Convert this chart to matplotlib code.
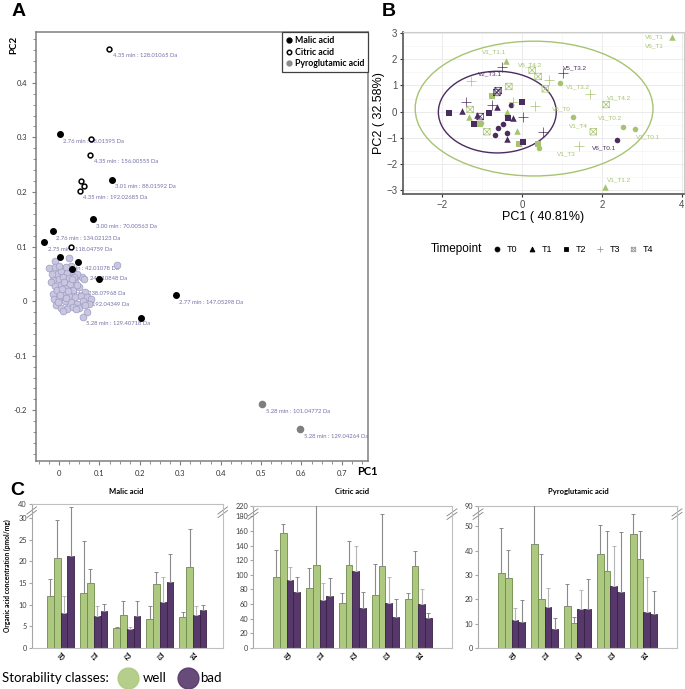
import numpy as np
import matplotlib.pyplot as plt
from matplotlib.patches import Ellipse
from matplotlib.lines import Line2D
from matplotlib.path import Path
from matplotlib.ticker import MultipleLocator

plt.rcParams['font.family'] = ['Lato', 'DejaVu Sans']

# ---------------- panel A : loadings ----------------
malic_x = [0.002, 0.131, 0.084, -0.015, -0.037, 0.002, 0.047, 0.032, 0.099, 0.289, 0.203]
malic_y = [0.306, 0.222, 0.150, 0.128, 0.108, 0.081, 0.071, 0.059, 0.040, 0.011, -0.031]
citric_x = [0.124, 0.079, 0.077, 0.054, 0.062, 0.051, 0.030]
citric_y = [0.462, 0.297, 0.268, 0.220, 0.211, 0.202, 0.100]
pyro_x = [0.503, 0.597]
pyro_y = [-0.189, -0.235]
other_x = [-0.025, -0.010, 0.025, 0.143, -0.010, 0.015, 0.057, 0.064, 0.070, 0.059,
           -0.015, -0.015, -0.020, -0.005, 0.005, 0.020, 0.035, 0.045, 0.000, 0.010,
           0.025, 0.040, -0.010, 0.005, 0.020, 0.035, 0.050, -0.005, 0.010, 0.025,
           0.040, 0.055, 0.070, 0.080, -0.012, 0.000, 0.015, 0.030, 0.045, 0.060,
           0.075, -0.008, 0.005, 0.020, 0.035, 0.050, 0.065, -0.002, 0.012, 0.028,
           0.000, 0.030, -0.018, 0.045, 0.062, 0.010, 0.042, 0.018, 0.008, 0.022,
           0.038, 0.002, 0.016, 0.032]
other_y = [0.060, 0.073, 0.079, 0.067, 0.063, 0.060, 0.044, 0.017, -0.020, -0.029,
           0.038, 0.013, 0.035, 0.050, 0.055, 0.052, 0.055, 0.050, 0.040, 0.045,
           0.042, 0.035, 0.028, 0.030, 0.025, 0.020, 0.025, 0.020, 0.015, 0.010,
           0.008, 0.010, 0.008, 0.003, 0.003, 0.005, 0.000, -0.002, -0.005, 0.000,
           -0.005, -0.008, -0.012, -0.015, -0.010, -0.012, -0.008, -0.002, 0.035, 0.032,
           0.065, 0.065, 0.050, 0.030, 0.040, -0.018, -0.015, 0.062, 0.022, 0.018,
           0.045, 0.012, 0.006, 0.040]
ann_text = ['4.35 min : 128.01065 Da', '2.76 min : 88.01595 Da', '4.35 min : 156.00555 Da',
            '3.01 min : 88.01592 Da', '4.35 min : 192.02685 Da', '3.00 min : 70.00563 Da',
            '2.76 min : 134.02123 Da', '2.75 min : 118.04759 Da', '2.75 min : 42.01078 Da',
            '2.71 min : 248.10848 Da', '2.68 min : 238.07968 Da', '3.01 min : 192.04349 Da',
            '5.28 min : 129.40718 Da', '2.77 min : 147.05298 Da', '5.28 min : 101.04772 Da',
            '5.28 min : 129.04264 Da']
ann_x = [0.124, 0.002, 0.077, 0.131, 0.051, 0.084, -0.015, -0.037, -0.010, 0.002,
         -0.005, 0.007, 0.059, 0.289, 0.503, 0.597]
ann_y = [0.462, 0.306, 0.268, 0.222, 0.202, 0.150, 0.128, 0.108, 0.073, 0.055,
         0.027, 0.007, -0.029, 0.011, -0.189, -0.235]

# ---------------- panel B : scores ----------------
pca_x = [1.28, 2.53, 2.83, 0.95, 0.43, -1.03,
         2.38, -0.28, -0.60, -0.48, -0.68, -0.38,
         3.75, -0.40, 2.08, -0.38, -1.33, -0.13,
         -1.50, -1.13, -0.63, -0.23, -0.38,
         -0.75, -1.05, -0.08, 0.40,
         -1.83, -1.20, -0.83, -0.35, 0.00, 0.03,
         0.67, 1.70, 0.32, 1.43, -1.28, -0.23,
         -0.50, 1.03, -1.40, -0.75, 0.03, 0.53,
         0.25, 0.40, 0.58, 2.10, 1.78, -0.88, -1.30, -0.33,
         -1.05, -0.63, -0.60]
pca_y = [-0.20, -0.57, -0.67, 1.08, -1.38, -0.42,
         -1.08, 0.27, -0.62, -0.46, -0.88, -0.81,
         2.85, 1.92, -2.88, 0.00, -0.19, -0.73,
         0.04, -0.12, 0.18, -0.23, -1.04,
         0.58, -0.46, -1.23, -1.23,
         -0.04, -0.46, -0.04, -0.23, 0.38, -1.15,
         1.19, 0.68, 0.20, -1.30, 1.16, 0.38,
         1.70, 1.46, 0.38, 0.27, -0.19, -0.77,
         1.58, 1.34, 0.87, 0.27, -0.77, -0.77, 0.08, 0.96,
         -0.19, 0.73, 0.80]
pca_tp = (['T0'] * 12 + ['T1'] * 11 + ['T2'] * 10 + ['T3'] * 12 + ['T4'] * 11)
pca_cls = (['well'] * 6 + ['bad'] * 6 + ['well'] * 6 + ['bad'] * 5 + ['well'] * 4 + ['bad'] * 6
           + ['well'] * 6 + ['bad'] * 6 + ['well'] * 8 + ['bad'] * 3)
lab_text = ['V6_T1', 'V6_T1', 'V1_T1.1', 'V6_T4.2', 'V2_T3.1', 'V5_T3.2', 'V1_T3.2', 'V1_T4.2',
            'V6_T0', 'V1_T4', 'V1_T0.2', 'V1_T0.1', 'V6_T0.1', 'V1_T3', 'V1_T1.2']
lab_x = [3.30, 3.30, -0.70, 0.20, -0.80, 1.33, 1.40, 2.43, 0.98, 1.40, 2.20, 3.15, 2.05, 1.10, 2.43]
lab_y = [2.85, 2.50, 2.30, 1.80, 1.46, 1.69, 0.96, 0.54, 0.12, -0.54, -0.23, -0.96, -1.38, -1.62, -2.62]
lab_cls = ['well', 'well', 'well', 'well', 'bad', 'bad', 'well', 'well', 'well', 'well', 'well',
           'well', 'bad', 'well', 'well']
ell_cls = ['well', 'bad']
ell_cx = [0.30, -0.62]
ell_cy = [0.115, -0.02]
ell_w = [5.95, 2.95]
ell_h = [5.15, 3.12]

# ---------------- panel C : bars ----------------
timepoints = ['T0', 'T1', 'T2', 'T3', 'T4']
malic_vals = [[12.1, 12.7, 4.7, 6.7, 7.2], [20.8, 15.0, 7.6, 14.8, 18.7],
              [8.0, 7.4, 4.4, 10.6, 7.6], [21.3, 8.5, 7.3, 15.2, 8.7]]
malic_err = [[3.7, 12.0, 0.2, 3.0, 1.1], [8.8, 3.3, 3.2, 2.7, 8.8],
             [4.0, 2.3, 0.4, 5.8, 2.1], [11.2, 1.6, 3.6, 6.5, 1.2]]
citric_vals = [[96.7, 82, 61.5, 72, 67], [157, 113, 113, 112, 112],
               [93, 66, 105, 61, 60], [77, 71, 55, 42, 41]]
citric_err = [[37, 27, 13, 43, 8], [12, 90, 33, 71, 20],
              [18, 23, 35, 36, 20], [20, 24, 21, 25, 7]]
pyro_vals = [[31.0, 42.6, 17.1, 38.8, 46.7], [28.8, 20.0, 10.3, 31.6, 36.7],
             [11.4, 16.8, 15.9, 25.3, 14.8], [10.7, 7.7, 16.2, 23.0, 13.8]]
pyro_err = [[18.5, 20, 9.3, 11.6, 8.5], [11.3, 18.5, 2.4, 16.5, 11.4],
            [5.2, 7.9, 7.8, 16.5, 14.4], [8.9, 4.6, 12.3, 24.7, 9.6]]

green = '#adc97f'
purple = '#56386a'
green_b = '#a6c470'
purple_b = '#4b2c5e'

fig = plt.figure(figsize=(6.85, 6.89), dpi=100)

# ======== A ========
axA = fig.add_axes([0.0526, 0.3309, 0.4847, 0.6226])
for i in range(len(ann_text)):
    axA.annotate(ann_text[i], (ann_x[i], ann_y[i]), xytext=(2.5, -5), textcoords='offset points',
                 fontsize=4.2, color='#7371a8', va='center', ha='left', zorder=2)
axA.scatter(other_x, other_y, s=24, c='#c9c7e0', edgecolors='#9d9bc2', linewidths=0.5, zorder=3)
axA.scatter(malic_x, malic_y, s=16, c='black', zorder=4)
axA.scatter(citric_x, citric_y, s=12, c='white', edgecolors='black', linewidths=1.1, zorder=4)
axA.scatter(pyro_x, pyro_y, s=20, c='#7f7f7f', zorder=4)
axA.set_xlim(-0.057, 0.765)
axA.set_ylim(-0.293, 0.493)
axA.set_xticks(np.arange(0, 0.71, 0.1))
axA.set_xticklabels(['0', '0.1', '0.2', '0.3', '0.4', '0.5', '0.6', '0.7'])
axA.set_yticks(np.arange(-0.2, 0.41, 0.1))
axA.set_yticklabels(['-0.2', '-0.1', '0', '0.1', '0.2', '0.3', '0.4'])
axA.xaxis.set_minor_locator(MultipleLocator(0.025))
axA.yaxis.set_minor_locator(MultipleLocator(0.02))
axA.tick_params(which='major', length=3, color='#7f7f7f', labelsize=5.5, labelcolor='#333333')
axA.tick_params(which='minor', length=2, color='#7f7f7f')
for s in axA.spines.values():
    s.set_color('#7f7f7f')
    s.set_linewidth(1.1)
hA = [Line2D([], [], marker='o', ls='none', mfc='black', mec='black', ms=3.5),
      Line2D([], [], marker='o', ls='none', mfc='white', mec='black', mew=1.1, ms=3.2),
      Line2D([], [], marker='o', ls='none', mfc='#8c8c8c', mec='#8c8c8c', ms=3.5)]
legA = axA.legend(hA, ['Malic acid', 'Citric acid', 'Pyroglutamic acid'], loc='upper right',
                  borderaxespad=0, fancybox=False, edgecolor='#404040', framealpha=1,
                  prop=dict(weight='bold', size=6.3), handletextpad=0.2, handlelength=0.8,
                  labelspacing=0.3, borderpad=0.45)
legA.get_frame().set_linewidth(0.9)
fig.text(0.0204, 0.9347, 'PC2', rotation=90, fontsize=7, fontweight='bold', ha='center', va='center')
fig.text(0.537, 0.3164, 'PC1', fontsize=8, fontweight='bold', ha='center', va='center')

# ======== B ========
axB = fig.add_axes([0.5883, 0.7184, 0.4102, 0.2351])
box_x = Path([(-1, -1), (1, -1), (1, 1), (-1, 1), (-1, -1), (-1, -1), (1, 1), (-1, 1), (1, -1)],
             [Path.MOVETO, Path.LINETO, Path.LINETO, Path.LINETO, Path.CLOSEPOLY,
              Path.MOVETO, Path.LINETO, Path.MOVETO, Path.LINETO])
mk = {'T0': 'o', 'T1': '^', 'T2': 's', 'T3': '+', 'T4': box_x}
sz = {'T0': 16, 'T1': 22, 'T2': 16, 'T3': 45, 'T4': 22}
ccol = {'well': green_b, 'bad': purple_b}
for i in range(len(ell_cx)):
    axB.add_patch(Ellipse((ell_cx[i], ell_cy[i]), ell_w[i], ell_h[i], fill=False,
                          edgecolor=ccol[ell_cls[i]], lw=1.0, zorder=2))
for i in range(len(pca_x)):
    tp = pca_tp[i]
    col = ccol[pca_cls[i]]
    if tp in ('T3', 'T4'):
        axB.scatter(pca_x[i], pca_y[i], marker=mk[tp], s=sz[tp], facecolors='none' if tp == 'T4' else col,
                    edgecolors=col, linewidths=0.5, zorder=3)
    else:
        axB.scatter(pca_x[i], pca_y[i], marker=mk[tp], s=sz[tp], c=col, linewidths=0, zorder=3)
for i in range(len(lab_text)):
    axB.text(lab_x[i], lab_y[i], lab_text[i], fontsize=4.6, color=ccol[lab_cls[i]],
             ha='center', va='center', family=['Liberation Sans', 'DejaVu Sans'], zorder=3)
axB.set_xlim(-2.98, 4.05)
axB.set_ylim(-3.15, 3.04)
axB.set_xticks([-2, 0, 2, 4])
axB.set_yticks([-3, -2, -1, 0, 1, 2, 3])
axB.set_xticks([-1, 1, 3], minor=True)
axB.set_yticks(np.arange(-2.5, 3, 1.0), minor=True)
axB.grid(which='major', color='#ebebeb', lw=0.7, zorder=0)
axB.grid(which='minor', color='#f2f2f2', lw=0.4, zorder=0)
axB.set_axisbelow(True)
axB.tick_params(which='major', length=2.5, color='#333333', labelsize=7, labelcolor='#4d4d4d', pad=1.5)
axB.tick_params(which='minor', length=0)
for lbl in axB.get_xticklabels() + axB.get_yticklabels():
    lbl.set_family(['Liberation Sans', 'DejaVu Sans'])
axB.spines['left'].set_color('#555555')
axB.spines['bottom'].set_color('#555555')
axB.spines['left'].set_linewidth(1.2)
axB.spines['bottom'].set_linewidth(1.2)
axB.spines['top'].set_color('#cccccc')
axB.spines['right'].set_color('#cccccc')
axB.set_xlabel('PC1 ( 40.81%)', fontsize=9, family=['Liberation Sans', 'DejaVu Sans'], labelpad=1)
axB.set_ylabel('PC2 ( 32.58%)', fontsize=9, family=['Liberation Sans', 'DejaVu Sans'], labelpad=1)

fig.text(0.629, 0.6386, 'Timepoint', fontsize=8.5, va='center', family=['Liberation Sans', 'DejaVu Sans'])
leg_x = [497, 532, 566, 600, 633]
for i, tp in enumerate(timepoints):
    xm = leg_x[i] / 685
    m = mk[tp]
    fig.add_artist(Line2D([xm], [0.6386], transform=fig.transFigure, marker=m, ls='none',
                          ms=4.5 if tp == 'T3' else (3.2 if tp == 'T4' else 3.5),
                          mfc='none' if tp in ('T3', 'T4') else 'black',
                          mec='#999999' if tp in ('T3', 'T4') else 'black', mew=0.6))
    fig.text(xm + 10 / 685, 0.6386, tp, fontsize=6.5, va='center', family=['Liberation Sans', 'DejaVu Sans'])

# ======== C ========
def bar_panel(rect, title, tcenter, vals, errs, top, ticks, toplabel, xlim):
    ax = fig.add_axes(rect)
    x = np.arange(len(timepoints))
    w = 0.205
    offs = [-1.5, -0.5, 0.5, 1.5]
    cols = [green, green, purple, purple]
    ecols = ['#6e8a4c', '#6e8a4c', '#3a2048', '#3a2048']
    errc = ['#8a8a8a', '#8a8a8a', '#b5b5b5', '#8a8a8a']
    for k in range(4):
        ax.bar(x + offs[k] * w, vals[k], w, color=cols[k], edgecolor=ecols[k], lw=0.6, zorder=2)
        ax.errorbar(x + offs[k] * w, vals[k], yerr=[np.zeros(len(x)), errs[k]], fmt='none',
                    ecolor=errc[k], elinewidth=0.8, capsize=1.2, capthick=0.7, zorder=3)
    ax.set_xlim(*xlim)
    ax.set_ylim(0, top)
    ax.set_yticks(list(ticks) + [top])
    ax.set_yticklabels([str(t) for t in ticks] + [toplabel])
    ax.set_xticks(x)
    ax.set_xticklabels(timepoints, rotation=-45, fontsize=4.8, fontweight='bold', ha='center')
    ax.tick_params(axis='x', length=0, pad=3)
    ax.tick_params(axis='y', length=2, color='#a6a6a6', labelsize=5.3, labelcolor='#404040', pad=1.5)
    for s in ax.spines.values():
        s.set_color('#bfbfbf')
        s.set_linewidth(0.8)
    ax.spines['left'].set_color('#a6a6a6')
    for xa in (0, 1):
        for dy in (0, 0.025):
            ax.plot([xa - 0.025, xa + 0.025], [0.905 + dy, 0.955 + dy], transform=ax.transAxes,
                    clip_on=False, color='#808080', lw=0.6)
    fig.text(tcenter, 0.286, title, fontsize=5.5, fontweight='bold', ha='center', va='center')
    return ax

bar_panel([0.0463, 0.0595, 0.2788, 0.209], 'Malic acid', 0.185, malic_vals, malic_err,
          33.2, range(0, 31, 5), '40', (-0.875, 4.9))
bar_panel([0.3693, 0.0595, 0.2905, 0.2061], 'Citric acid', 0.514, citric_vals, citric_err,
          194, range(0, 181, 20), '220', (-1.02, 5.02))
bar_panel([0.6978, 0.0595, 0.2905, 0.2061], 'Pyroglutamic acid', 0.844, pyro_vals, pyro_err,
          58.4, range(0, 51, 10), '90', (-1.02, 5.02))

fig.text(0.0102, 0.164, 'Organic acid concentration (pmol/mg)', rotation=90, fontsize=4.8,
         fontweight='bold', ha='center', va='center')

fig.text(0.003, 0.016, 'Storability classes:', fontsize=9.5, va='center')
fig.add_artist(Line2D([0.187], [0.016], transform=fig.transFigure, marker='o', ls='none',
                      ms=15, mfc=green, mec=green, alpha=0.9))
fig.text(0.209, 0.016, 'well', fontsize=9.5, va='center')
fig.add_artist(Line2D([0.2745], [0.016], transform=fig.transFigure, marker='o', ls='none',
                      ms=15, mfc=purple, mec=purple, alpha=0.9))
fig.text(0.292, 0.016, 'bad', fontsize=9.5, va='center')

fig.text(0.0175, 0.9826, 'A', fontsize=14, fontweight='bold', va='center', family=['Liberation Sans', 'DejaVu Sans'])
fig.text(0.5577, 0.9826, 'B', fontsize=14, fontweight='bold', va='center', family=['Liberation Sans', 'DejaVu Sans'])
fig.text(0.0146, 0.2874, 'C', fontsize=14, fontweight='bold', va='center', family=['Liberation Sans', 'DejaVu Sans'])

fig.savefig('out.png', dpi=100)
